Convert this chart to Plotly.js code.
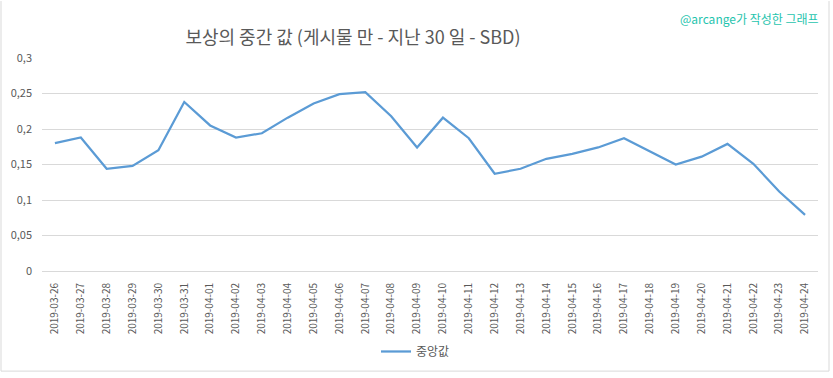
<!DOCTYPE html>
<html>
<head>
<meta charset="utf-8">
<script src="https://cdn.plot.ly/plotly-3.0.1.min.js"></script>
<style>
html,body{margin:0;padding:0;background:#fff;}
#chart{width:833px;height:378px;}
</style>
</head>
<body>
<div id="chart"></div>
<script>
const dates = ["2019-03-26","2019-03-27","2019-03-28","2019-03-29","2019-03-30","2019-03-31",
  "2019-04-01","2019-04-02","2019-04-03","2019-04-04","2019-04-05","2019-04-06","2019-04-07",
  "2019-04-08","2019-04-09","2019-04-10","2019-04-11","2019-04-12","2019-04-13","2019-04-14",
  "2019-04-15","2019-04-16","2019-04-17","2019-04-18","2019-04-19","2019-04-20","2019-04-21",
  "2019-04-22","2019-04-23","2019-04-24"];
const medianValues = [0.180,0.188,0.144,0.148,0.170,0.238,0.205,0.188,0.194,0.216,0.236,0.249,0.252,
  0.218,0.174,0.216,0.187,0.137,0.144,0.158,0.165,0.174,0.187,0.168,0.150,0.161,0.179,0.151,0.112,0.079];
const seriesName = "중앙값";
const titleText = "보상의 중간 값 (게시물 만 - 지난 30 일 - SBD)";
const watermark = "@arcange가 작성한 그래프";

const font = "'Noto Sans CJK KR', 'Open Sans', sans-serif";
const L = 42, R = 818, T = 58, B = 275;
const px = x => (x - L) / (R - L);
const py = y => (B - y) / (B - T);

const trace = {
  type: "scatter", mode: "lines", x: dates, y: medianValues, name: seriesName,
  line: {color: "#5b9bd5", width: 2.25}, hoverinfo: "x+y"
};

const layout = {
  width: 833, height: 378,
  margin: {l: L, r: 833 - R, t: T, b: 378 - B, pad: 0},
  paper_bgcolor: "#fff", plot_bgcolor: "#fff",
  separators: ",.",
  font: {family: font, color: "#595959", size: 10},
  title: {text: titleText, x: px(353), xref: "paper", xanchor: "center",
          y: 1 - 38 / 378, yref: "container", yanchor: "middle",
          font: {family: font, size: 18, color: "#595959"}},
  xaxis: {type: "category", range: [-0.5, dates.length - 0.5], tickangle: -90,
          showgrid: false, showline: true, ticklabelstandoff: 7,
          linecolor: "#d9d9d9", linewidth: 1, ticks: "", zeroline: false,
          tickfont: {family: font, size: 10, color: "#595959"}, fixedrange: true},
  yaxis: {range: [0, 0.3], dtick: 0.05, tick0: 0, showgrid: true, gridcolor: "#d9d9d9",
          gridwidth: 1, zeroline: false, showline: false, ticks: "",
          ticklabelstandoff: 9,
          tickfont: {family: font, size: 11, color: "#595959"}, fixedrange: true},
  showlegend: true,
  legend: {orientation: "h", x: px(376), xanchor: "left", y: py(357), yanchor: "middle",
           font: {family: font, size: 12, color: "#595959"}, bgcolor: "rgba(0,0,0,0)"},
  annotations: [{text: watermark, xref: "paper", yref: "paper", x: px(821), y: py(18),
                 xanchor: "right", yanchor: "middle", showarrow: false,
                 font: {family: font, size: 12, color: "#1fc4ae"}}],
  shapes: [
    {type: "line", xref: "paper", yref: "paper", x0: px(1), x1: px(1), y0: py(0), y1: py(377),
     line: {color: "#d9d9d9", width: 1}},
    {type: "line", xref: "paper", yref: "paper", x0: px(829), x1: px(829), y0: py(0), y1: py(377),
     line: {color: "#d9d9d9", width: 1}},
    {type: "line", xref: "paper", yref: "paper", x0: px(1), x1: px(829), y0: py(377), y1: py(377),
     line: {color: "#d9d9d9", width: 1}}
  ]
};

Plotly.newPlot("chart", [trace], layout, {displayModeBar: false, staticPlot: true});
</script>
</body>
</html>
